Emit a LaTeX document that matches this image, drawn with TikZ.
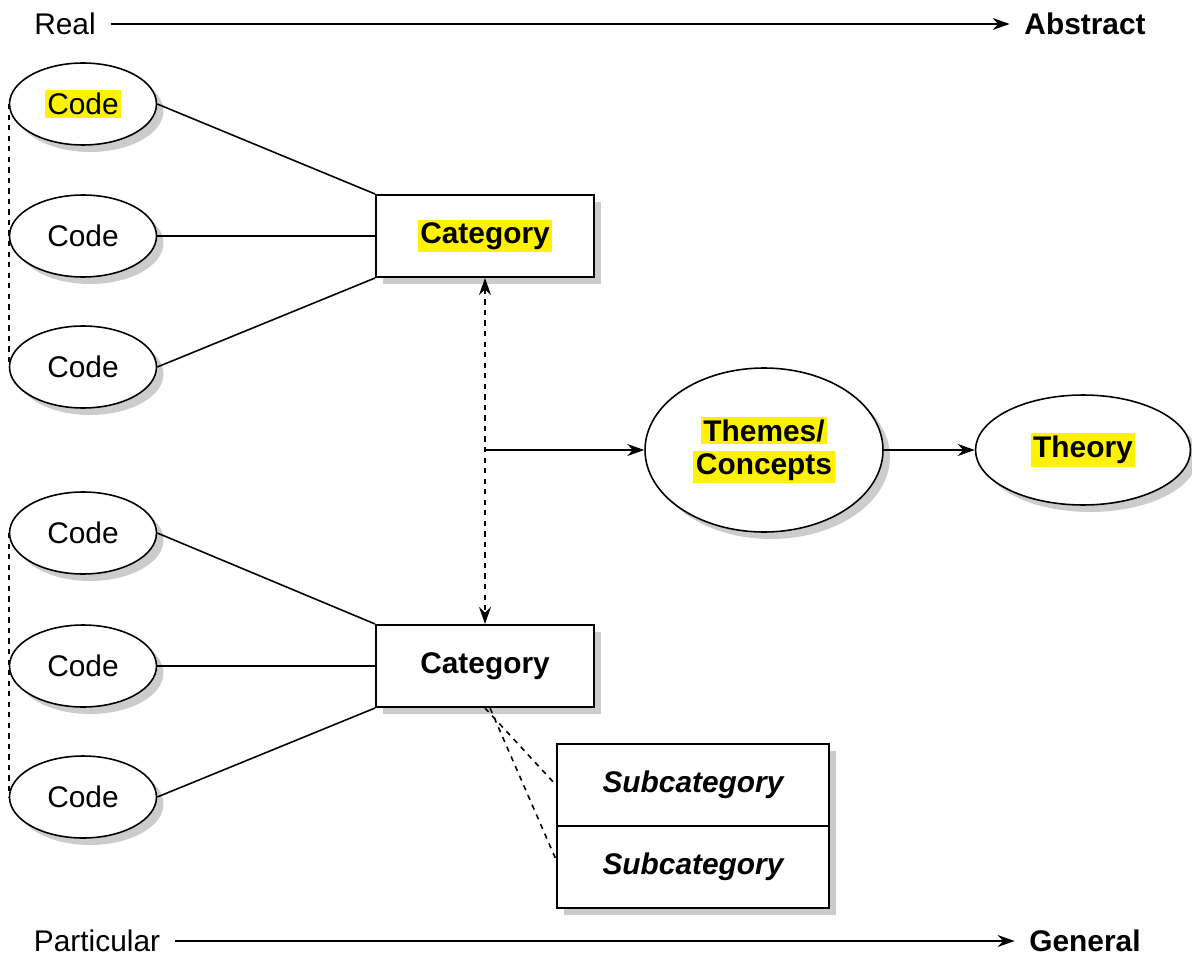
\documentclass[tikz,border=0pt]{standalone}
\usepackage{fontspec}
\setmainfont{Liberation Sans}
\usepackage{tikz}
\usetikzlibrary{arrows.meta, shapes.geometric, shadows}
\newcommand{\hl}[1]{{\setlength{\fboxsep}{1.5pt}\colorbox{yellow}{#1}}}

\begin{document}
\begin{tikzpicture}[x=0.02cm, y=-0.02cm, line width=0.9pt, font=\fontsize{17}{21}\selectfont,
    >={Stealth[length=0.34cm, width=0.24cm]}]
  \tikzstyle{shade}=[drop shadow={shadow xshift=0.14cm, shadow yshift=-0.14cm, fill=black!20, opacity=1}]
  \tikzstyle{code}=[ellipse, draw, fill=white, shade, inner sep=0pt, minimum width=2.94cm, minimum height=1.64cm]
  \tikzstyle{catbox}=[rectangle, draw, fill=white, shade, line width=1.2pt, minimum width=4.36cm, minimum height=1.64cm, font=\fontsize{17}{21}\selectfont\bfseries]
  \tikzstyle{subbox}=[rectangle, draw, fill=white, shade, line width=1.2pt, minimum width=5.44cm, minimum height=1.64cm, font=\fontsize{17}{21}\selectfont\bfseries\itshape]
  \tikzstyle{axis}=[inner sep=0.28cm]
  \useasboundingbox (0,0) rectangle (1192,959);

  \node[axis] (real) at (65,24) {Real};
  \node[axis, font=\fontsize{17}{21}\selectfont\bfseries] (abstract) at (1085,24) {Abstract};
  \node[axis] (particular) at (97,941) {Particular};
  \node[axis, font=\fontsize{17}{21}\selectfont\bfseries] (general) at (1085,941) {General};
  \draw[->] (real.east) -- (abstract.west);
  \draw[->] (particular.east) -- (general.west);

  \node[code] (C_1) at (83,104) {\hl{Code}};
  \node[code] (C_2) at (83,236) {Code};
  \node[code] (C_3) at (83,367) {Code};
  \node[code] (C_4) at (83,533) {Code};
  \node[code] (C_5) at (83,666) {Code};
  \node[code] (C_6) at (83,797) {Code};

  \node[catbox] (K_1) at (485,236) {\hl{Category}};
  \node[catbox] (K_2) at (485,666) {Category};

  \node[subbox] (S_1) at (693,785) {Subcategory};
  \node[subbox] (S_2) at (693,867) {Subcategory};

  \node[ellipse, draw, fill=white, shade, inner sep=0pt, align=center, minimum width=4.76cm, minimum height=3.28cm,
    font=\fontsize{17}{21}\selectfont\bfseries] (T) at (764,450) {\hl{Themes/}\\[-2pt]\hl{Concepts}};
  \node[ellipse, draw, fill=white, shade, inner sep=0pt, minimum width=4.3cm, minimum height=2.2cm,
    font=\fontsize{17}{21}\selectfont\bfseries] (Th) at (1083,450) {\hl{Theory}};

  \draw (C_1.east) -- (K_1.north west);
  \draw (C_2.east) -- (K_1.west);
  \draw (C_3.east) -- (K_1.south west);
  \draw (C_4.east) -- (K_2.north west);
  \draw (C_5.east) -- (K_2.west);
  \draw (C_6.east) -- (K_2.south west);
  \draw[dashed] (C_1.west) -- (C_3.west);
  \draw[dashed] (C_4.west) -- (C_6.west);

  \draw[dashed, <->] (K_1.south) -- (K_2.north);
  \coordinate (mid) at (K_1.south |- T.west);
  \draw[->] (mid) -- (T.west);
  \draw[->] (T.east) -- (Th.west);

  \draw[dashed] (K_2.south) -- (S_1.west);
  \draw[dashed] ([xshift=0.1cm]K_2.south) -- ([yshift=0.15cm]S_2.west);
\end{tikzpicture}
\end{document}
